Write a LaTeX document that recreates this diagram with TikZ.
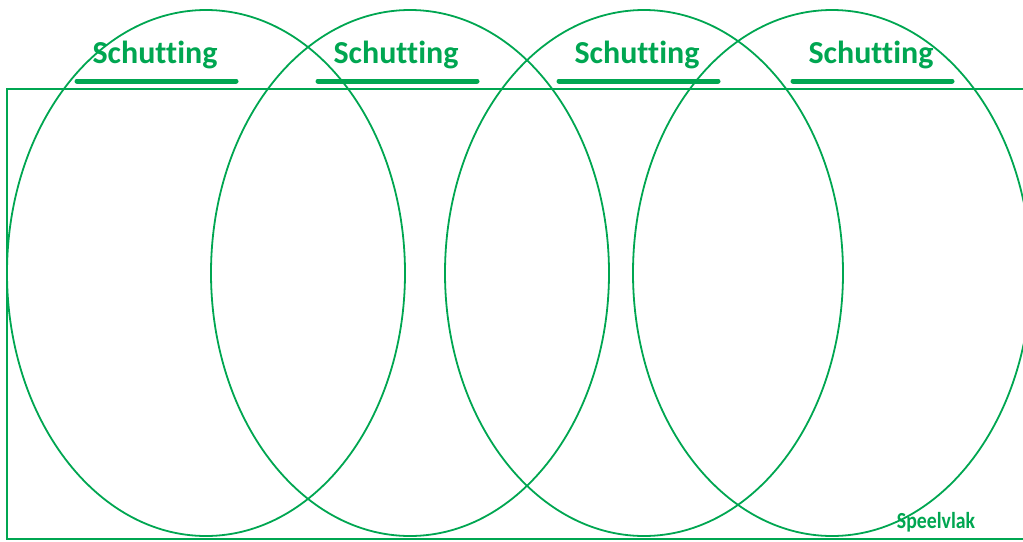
\documentclass[tikz,border=0pt]{standalone}
\usepackage{fontspec}
\newfontfamily\labelfont[Ligatures=NoCommon]{Carlito}
\usetikzlibrary{positioning}
\definecolor{fencegreen}{HTML}{00A651}

\begin{document}
\begin{tikzpicture}[x=1pt, y=-1pt,
    ring/.style={draw=fencegreen, line width=1.8pt},
    fencelabel/.style={text=fencegreen, inner sep=0pt,
      font=\labelfont\bfseries\fontsize{32}{32}\selectfont},
    fencebar/.style={draw=fencegreen, line width=5pt, line cap=round}]
  \useasboundingbox (0,0) rectangle (1023,541);
  \clip (0,0) rectangle (1023,541);
  % play area
  \draw[ring] (7,89) rectangle (1040,539);
  \foreach \cx in {206,410,644,832}
    \draw[ring] (\cx,273) ellipse [x radius=199pt, y radius=263pt];
  % fences
  \foreach \lx/\i in {155/1,396/2,637/3,871/4}{
    \node[fencelabel, anchor=base] (schut\i) at (\lx,63) {Schutting};
    \draw[fencebar] ([shift={(-78pt,-18pt)}]schut\i.base)
      -- ([shift={(81pt,-18pt)}]schut\i.base);
  }
  \node[fencelabel, anchor=base, font=\labelfont\bfseries\fontsize{23}{23}\selectfont]
    (speelvlak) at (936,528) {\scalebox{0.86}[1]{Speelvlak}};
\end{tikzpicture}
\end{document}
